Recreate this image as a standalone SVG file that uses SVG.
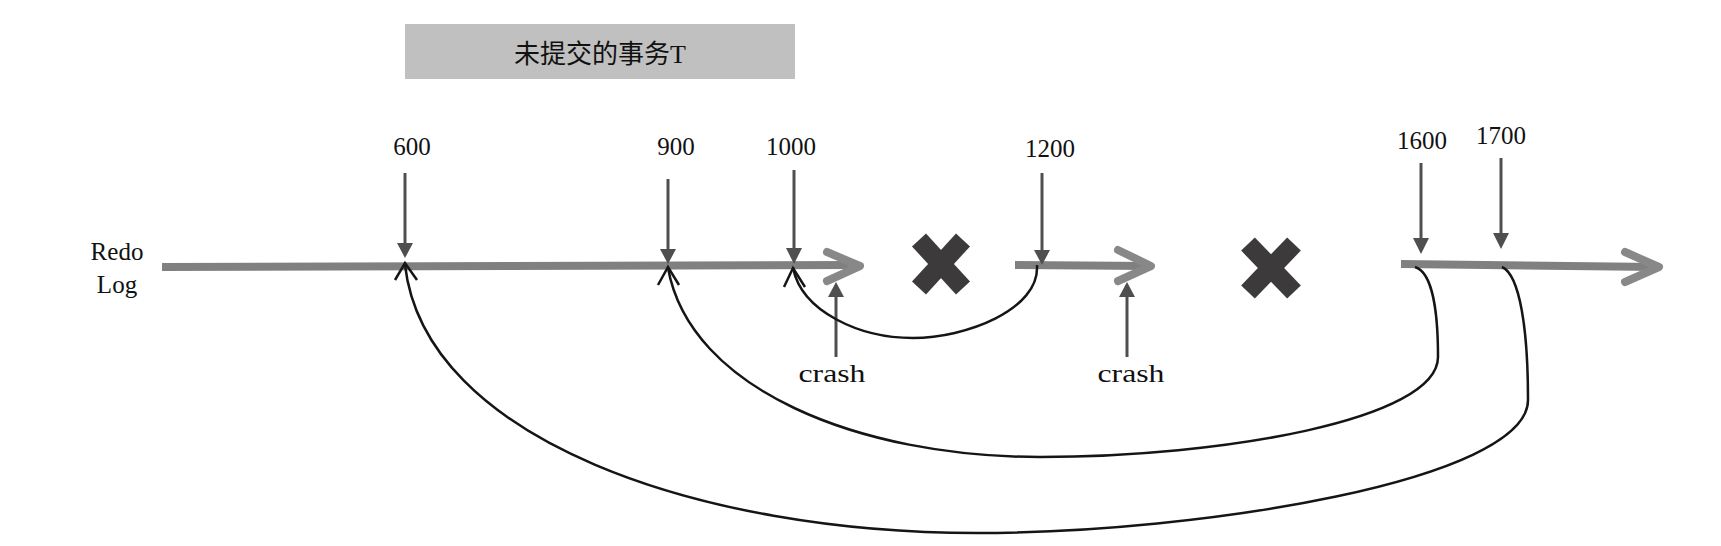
<svg xmlns="http://www.w3.org/2000/svg" width="1721" height="546" viewBox="0 0 1721 546">
<style>
.lbl{font-family:"Liberation Serif","Noto Sans CJK SC",serif;font-size:25px;fill:#111;text-anchor:middle}
.title{font-family:"Liberation Serif","Noto Sans CJK SC",serif;font-size:26px;fill:#111;text-anchor:middle}
.log{fill:none;stroke:#808080;stroke-width:8}
.chev{fill:none;stroke:#888;stroke-width:8;stroke-linecap:round;stroke-linejoin:round}
.ptr{stroke:#4f4f4f;stroke-width:3;fill:none}
.head{fill:#4f4f4f}
.x{stroke:#3d3a3b;stroke-width:19;stroke-linecap:butt}
.jump{fill:none;stroke:#151515;stroke-width:2.5}
.open{fill:none;stroke:#151515;stroke-width:2.5;stroke-linejoin:miter}
</style>
<rect width="1721" height="546" fill="#fff"/>
<g id="title">
<rect x="405" y="24" width="390" height="55" fill="#c0c0c0"/>
<text class="title" x="600" y="63">未提交的事务T</text>
</g>
<g id="redo-log-label">
<text class="lbl" x="117" y="260">Redo</text>
<text class="lbl" x="117" y="293">Log</text>
</g>
<g id="log-segment-1">
<line class="log" x1="162" y1="267" x2="858" y2="265"/>
<polyline class="chev" points="827,252 860,266 827,281"/>
</g>
<g id="log-segment-2">
<line class="log" x1="1015" y1="265" x2="1149" y2="266"/>
<polyline class="chev" points="1118,250 1151,266 1118,281"/>
</g>
<g id="log-segment-3">
<line class="log" x1="1401" y1="264" x2="1657" y2="267"/>
<polyline class="chev" points="1625,252 1659,267 1625,282"/>
</g>
<g id="crash-x-1">
<line class="x" x1="919" y1="240" x2="963" y2="288"/>
<line class="x" x1="963" y1="240" x2="919" y2="288"/>
</g>
<g id="crash-x-2">
<line class="x" x1="1248" y1="244" x2="1294" y2="292"/>
<line class="x" x1="1294" y1="244" x2="1248" y2="292"/>
</g>
<g id="lsn-600">
<text class="lbl" x="412" y="155">600</text>
<line class="ptr" x1="405" y1="173" x2="405" y2="245"/>
<polygon class="head" points="397,243 413,243 405,258"/>
</g>
<g id="lsn-900">
<text class="lbl" x="676" y="155">900</text>
<line class="ptr" x1="668" y1="179" x2="668" y2="251"/>
<polygon class="head" points="660,249 676,249 668,264"/>
</g>
<g id="lsn-1000">
<text class="lbl" x="791" y="155">1000</text>
<line class="ptr" x1="794" y1="170" x2="794" y2="250"/>
<polygon class="head" points="786,248 802,248 794,264"/>
</g>
<g id="lsn-1200">
<text class="lbl" x="1050" y="157">1200</text>
<line class="ptr" x1="1042" y1="173" x2="1042" y2="252"/>
<polygon class="head" points="1034,250 1050,250 1042,265"/>
</g>
<g id="lsn-1600">
<text class="lbl" x="1422" y="149">1600</text>
<line class="ptr" x1="1421" y1="163" x2="1421" y2="240"/>
<polygon class="head" points="1413,238 1429,238 1421,254"/>
</g>
<g id="lsn-1700">
<text class="lbl" x="1501" y="144">1700</text>
<line class="ptr" x1="1501" y1="158" x2="1501" y2="235"/>
<polygon class="head" points="1493,233 1509,233 1501,249"/>
</g>
<g id="crash-1">
<line class="ptr" x1="836" y1="357" x2="836" y2="295"/>
<polygon class="head" points="828,297 844,297 836,282"/>
<text class="lbl" x="832" y="382" textLength="67" lengthAdjust="spacingAndGlyphs">crash</text>
</g>
<g id="crash-2">
<line class="ptr" x1="1127" y1="357" x2="1127" y2="295"/>
<polygon class="head" points="1119,297 1135,297 1127,282"/>
<text class="lbl" x="1131" y="382" textLength="67" lengthAdjust="spacingAndGlyphs">crash</text>
</g>
<g id="connectors">
<path class="jump" d="M1037,265 C1040,310 965,338 913,338 C860,338 802,312 793,268"/>
<polyline class="open" points="784,287 793,268 805,287"/>
<path class="jump" d="M1415,267 C1432,272 1438,310 1438,357 C1438,420 1220,457 1040,457 C860,457 690,390 668,268"/>
<polyline class="open" points="658,285 668,267 679,285"/>
<path class="jump" d="M1502,267 C1520,275 1528,330 1528,400 C1528,480 1200,533 977,533 C700,533 425,440 405,265"/>
<polyline class="open" points="395,280 405,263 417,280"/>
</g>
</svg>
